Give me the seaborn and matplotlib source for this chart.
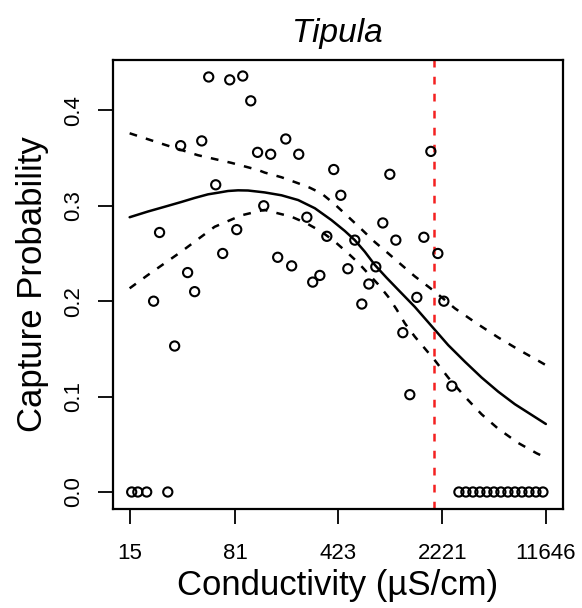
import numpy as np
import pandas as pd
import matplotlib
matplotlib.use("Agg")
import matplotlib.pyplot as plt
import seaborn as sns

# ---- data ----
obs_cond = [53.1, 74.3, 91.5, 104, 33.9, 47.5, 59.4, 116, 143, 182, 224, 392, 961, 1852,
            439, 128, 24.2, 83.1, 66.4, 255, 859, 351, 549, 1058, 1656, 2071, 160, 200,
            314, 280, 491, 768, 687, 614, 1480, 1183, 2280, 2592, 1323, 37.9, 42.4, 22.0, 30.8,
            15.5, 17.1, 19.7, 27.6,
            2900, 3243, 3627, 4056, 4537, 5075, 5676, 6349, 7101, 7943, 8885, 9938, 11116]
obs_prob = [0.435, 0.432, 0.436, 0.410, 0.363, 0.368, 0.322, 0.356, 0.354, 0.370, 0.354, 0.338,
            0.333, 0.357, 0.311, 0.300, 0.272, 0.275, 0.250, 0.288, 0.282, 0.268, 0.264, 0.264,
            0.267, 0.250, 0.246, 0.237, 0.227, 0.220, 0.234, 0.236, 0.218, 0.197, 0.204, 0.167,
            0.200, 0.111, 0.102, 0.230, 0.210, 0.200, 0.153,
            0.0, 0.0, 0.0, 0.0,
            0.0, 0.0, 0.0, 0.0, 0.0, 0.0, 0.0, 0.0, 0.0, 0.0, 0.0, 0.0, 0.0]

fit_cond = [15, 20.1, 26.3, 34.3, 42.4, 52.5, 61.6, 72.3, 84.9, 99.6, 117, 130, 170, 222,
            290, 378, 468, 549, 644, 756, 912, 1098, 1434, 1974, 2443, 3191, 4167, 5435,
            7101, 11646]
fit_prob = [0.288, 0.294, 0.299, 0.304, 0.3082, 0.312, 0.3137, 0.3155, 0.3162, 0.316, 0.3148,
            0.314, 0.311, 0.306, 0.2974, 0.285, 0.2736, 0.264, 0.2519, 0.238, 0.2246, 0.212,
            0.194, 0.170, 0.154, 0.1366, 0.120, 0.1052, 0.092, 0.0713]

upper_cond = [15, 26.3, 44.7, 76.3, 117, 130, 170, 222, 267, 322, 399, 493, 611, 756, 936,
              1159, 1434, 1974, 2719, 3846, 5435, 7486, 10314, 11646]
upper_prob = [0.376, 0.364, 0.353, 0.345, 0.3375, 0.3348, 0.3299, 0.3236, 0.319, 0.313,
              0.3015, 0.2886, 0.2754, 0.262, 0.2502, 0.238, 0.226, 0.210, 0.1925, 0.1768,
              0.162, 0.1494, 0.1376, 0.133]

lower_cond = [15, 20.1, 34.3, 58.4, 89.6, 123, 130, 199, 254, 322, 399, 493, 579, 679, 797,
              936, 1070, 1222, 1434, 1974, 2443, 3191, 4167, 5435, 7486, 10049, 11646]
lower_prob = [0.2135, 0.2275, 0.252, 0.278, 0.290, 0.295, 0.2956, 0.2886, 0.2816, 0.2729,
              0.2624, 0.2502, 0.2404, 0.229, 0.2177, 0.2047, 0.1915, 0.1768, 0.1628, 0.138,
              0.120, 0.0999, 0.0815, 0.0663, 0.0514, 0.0406, 0.036]

threshold = 1953
x_ticks = [15, 81, 423, 2221, 11646]
x_tick_labels = ["15", "81", "423", "2221", "11646"]
y_ticks = [0.0, 0.1, 0.2, 0.3, 0.4]
y_tick_labels = ["0.0", "0.1", "0.2", "0.3", "0.4"]

title = "Tipula"
xlabel = "Conductivity (µS/cm)"
ylabel = "Capture Probability"

# ---- style ----
sns.set_style("white")
plt.rcParams["font.family"] = ["Liberation Sans", "DejaVu Sans"]
plt.rcParams["text.color"] = "black"
plt.rcParams["axes.labelcolor"] = "black"

W, H = 582, 608
fig = plt.figure(figsize=(W / 100, H / 100), dpi=100)
left, right, top, bottom = 113, 562.5, 60, 508.7
ax = fig.add_axes([left / W, 1 - bottom / H, (right - left) / W, (bottom - top) / H])
ax.set_xscale("log")

obs = pd.DataFrame({"cond": obs_cond, "prob": obs_prob})
fit = pd.DataFrame({"cond": fit_cond, "prob": fit_prob})
upp = pd.DataFrame({"cond": upper_cond, "prob": upper_prob})
low = pd.DataFrame({"cond": lower_cond, "prob": lower_prob})

dash = (0, (3.1, 3.7))
sns.scatterplot(data=obs, x="cond", y="prob", ax=ax, marker="o", s=44,
                facecolor="none", edgecolor="black", linewidth=1.5, zorder=3)
sns.lineplot(data=fit, x="cond", y="prob", ax=ax, color="black", linewidth=1.8,
             estimator=None, sort=False)
sns.lineplot(data=upp, x="cond", y="prob", ax=ax, color="black", linewidth=1.8,
             estimator=None, sort=False, linestyle=dash)
sns.lineplot(data=low, x="cond", y="prob", ax=ax, color="black", linewidth=1.8,
             estimator=None, sort=False, linestyle=dash)
ax.axvline(threshold, color="#F42020", linewidth=1.8, linestyle=dash)

lmin, lmax = np.log(15), np.log(11646)
ext = 0.04 * (lmax - lmin)
ax.set_xlim(np.exp(lmin - ext), np.exp(lmax + ext))
ax.set_ylim(-0.0175, 0.4528)

ax.set_xticks(x_ticks)
ax.set_xticklabels(x_tick_labels)
ax.xaxis.set_minor_locator(matplotlib.ticker.NullLocator())
ax.set_yticks(y_ticks)
ax.set_yticklabels(y_tick_labels, rotation=90, va="center")

ax.tick_params(axis="both", which="major", direction="out", length=10.5, width=1.3,
               labelsize=16, color="black", labelcolor="black")
ax.tick_params(axis="x", pad=14.5, bottom=True)
ax.tick_params(axis="y", pad=10, left=True)

for sp in ax.spines.values():
    sp.set_visible(True)
    sp.set_color("black")
    sp.set_linewidth(1.6)

ax.set_xlabel(xlabel, fontsize=25, color="black")
ax.set_ylabel(ylabel, fontsize=25, color="black")
ax.xaxis.set_label_coords(0.5, -(569 - bottom) / (bottom - top))
ax.yaxis.set_label_coords((49 - left) / (right - left), 0.5)
ax.set_title(title, fontsize=24, style="italic", pad=13, color="black")

fig.savefig("out.png", dpi=100)
